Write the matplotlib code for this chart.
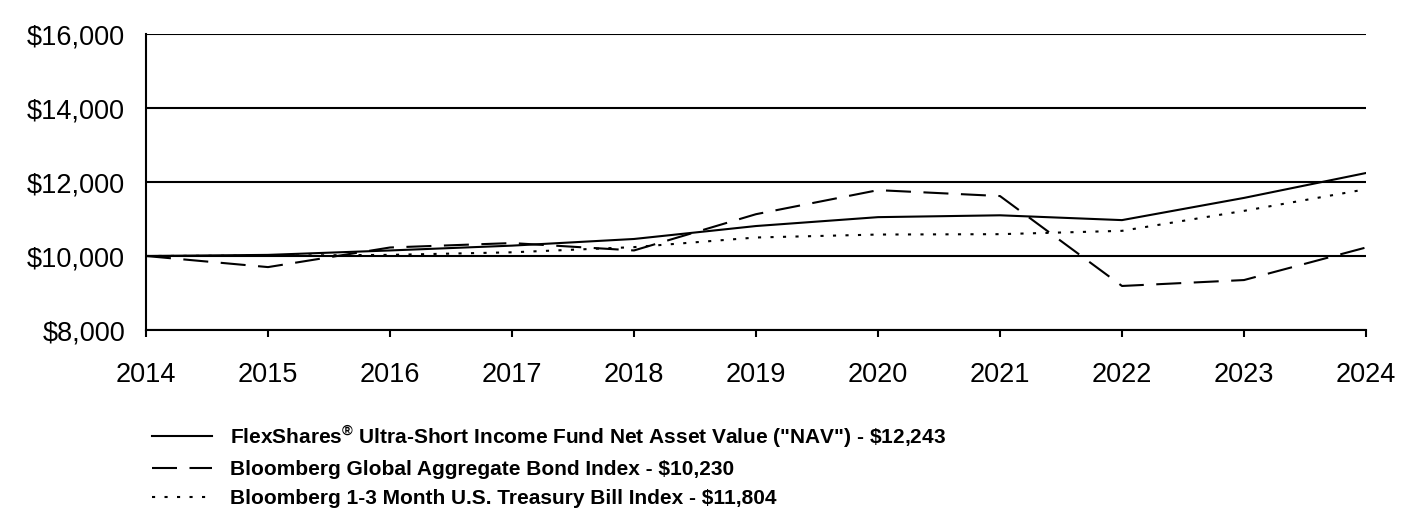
import numpy as np
import matplotlib.pyplot as plt
from matplotlib.ticker import FuncFormatter

plt.rcParams['font.family'] = ['Liberation Sans', 'DejaVu Sans']

years = [2014, 2015, 2016, 2017, 2018, 2019, 2020, 2021, 2022, 2023, 2024]
nav = [10000, 10030, 10150, 10280, 10460, 10810, 11050, 11100, 10970, 11570, 12243]
agg = [10000, 9700, 10230, 10350, 10150, 11130, 11780, 11620, 9190, 9350, 10230]
tbill = [10000, 10010, 10030, 10100, 10240, 10500, 10580, 10590, 10680, 11220, 11804]

labels = ['FlexShares$^{\\mathregular{\u00ae}}$ Ultra-Short Income Fund Net Asset Value ("NAV") - \\$12,243',
          'Bloomberg Global Aggregate Bond Index - \\$10,230',
          'Bloomberg 1-3 Month U.S. Treasury Bill Index - \\$11,804']

fig = plt.figure(figsize=(14.16, 5.16), dpi=100)
ax = fig.add_axes([146/1416, 1 - 330/516, 1220/1416, 296/516])

l1, = ax.plot(years, nav, c="black", lw=1.5, label=labels[0])
l2, = ax.plot(years, agg, c="black", lw=1.5, dashes=(12, 6), label=labels[1])
l3, = ax.plot(years, tbill, c="black", lw=1.5, dashes=(1.5, 4.5), label=labels[2])

ax.set_xlim([2014, 2024])
ax.set_ylim([8000, 16000])
ax.set_yticks([8000, 10000, 12000, 14000, 16000])
ax.set_xticks(years)
ax.yaxis.set_major_formatter(FuncFormatter(lambda v, p: "${:,.0f}".format(v)))
ax.grid(axis="y", color="black", lw=1.5)
ax.set_axisbelow(True)
for s in ["top", "right"]:
    ax.spines[s].set_visible(False)
ax.spines["left"].set_linewidth(1.5)
ax.spines["bottom"].set_linewidth(1.5)
ax.tick_params(axis="y", length=0, pad=15, labelsize=19.5)
ax.tick_params(axis="x", length=5, width=1.5, pad=18, labelsize=19.5)

leg = fig.legend(handles=[l1, l2, l3], loc="upper left",
                 bbox_to_anchor=(133/1416, 1 - 404/516), frameon=False,
                 prop={"weight": "bold", "size": 15}, handlelength=2.9,
                 handletextpad=0.85, labelspacing=0.5)

plt.savefig("out.png", dpi=100)
